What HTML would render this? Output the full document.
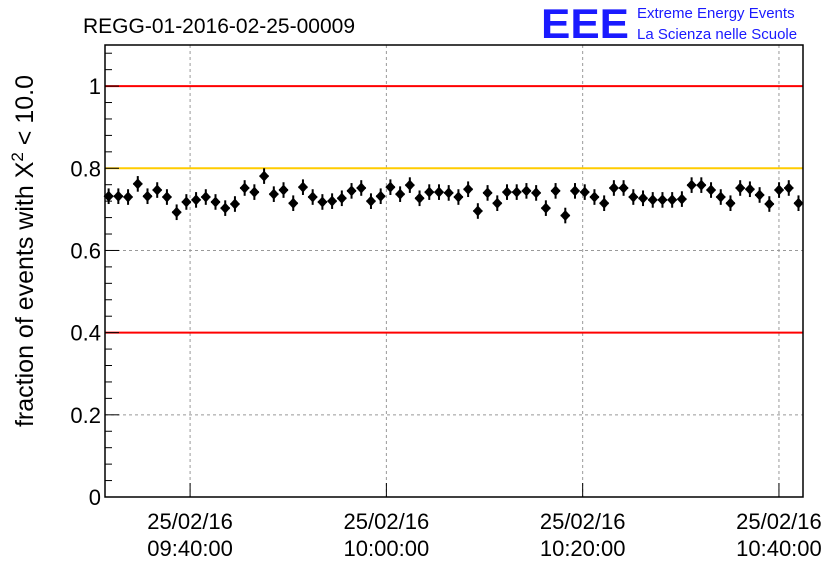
<!DOCTYPE html>
<html><head><meta charset="utf-8"><style>
body{margin:0;background:#fff;}
svg{display:block;font-family:"Liberation Sans",sans-serif;}
</style></head><body>
<svg id="chart" width="836" height="572">
<text x="83" y="33" font-size="21">REGG-01-2016-02-25-00009</text>
<g>
<text x="541" y="38" font-size="42" font-weight="bold" fill="#1a1aff" textLength="88" lengthAdjust="spacingAndGlyphs">EEE</text>
<text x="637" y="18" font-size="15" fill="#1a1aff">Extreme Energy Events</text>
<text x="637" y="39" font-size="15" fill="#1a1aff">La Scienza nelle Scuole</text>
</g>
<text transform="translate(33,251) rotate(-90)" text-anchor="middle" font-size="25">fraction of events with X<tspan dy="-10" font-size="17">2</tspan><tspan dy="10"> &lt; 10.0</tspan></text>
<g id="grid"></g><g id="lines"></g><g id="marks"></g><g id="axes"></g>
</svg>
<script>
const yTicks=[0,0.2,0.4,0.6,0.8,1];
const yTickLabels=["0","0.2","0.4","0.6","0.8","1"];
const xTickMinutes=[0,20,40,60];
const xTickDates=["25/02/16","25/02/16","25/02/16","25/02/16"];
const xTickTimes=["09:40:00","10:00:00","10:20:00","10:40:00"];
const refLines=[1,0.8,0.4];
const refColors=["#ff0000","#ffcc00","#ff0000"];
const startMinute=-8.3;
const stepMinute=0.99;
const values=[0.732,0.732,0.730,0.762,0.732,0.747,0.730,0.693,0.718,0.723,0.730,0.718,0.703,0.713,0.752,0.742,0.781,0.737,0.747,0.715,0.754,0.730,0.718,0.720,0.727,0.745,0.752,0.720,0.732,0.754,0.737,0.759,0.727,0.742,0.742,0.740,0.730,0.749,0.696,0.740,0.715,0.742,0.742,0.745,0.740,0.703,0.745,0.685,0.745,0.742,0.730,0.715,0.752,0.752,0.730,0.727,0.723,0.723,0.723,0.725,0.759,0.759,0.747,0.730,0.715,0.752,0.749,0.735,0.713,0.747,0.752,0.715];
const errors=values.map(()=>0.019);
const L=105,R=803,T=45,B=497;
const xmin=-8.67,xmax=62.45,ymin=0,ymax=1.1;
const X=m=>L+(m-xmin)/(xmax-xmin)*(R-L);
const Y=v=>B-(v-ymin)/(ymax-ymin)*(B-T);
const NS="http://www.w3.org/2000/svg";
function mk(tag,attrs,parent){const e=document.createElementNS(NS,tag);for(const k in attrs)e.setAttribute(k,attrs[k]);document.getElementById(parent).appendChild(e);return e;}
yTicks.forEach((v,i)=>{
  if(v>0){const g=mk('line',{x1:L,x2:R,y1:Y(v),y2:Y(v),stroke:'#999','stroke-dasharray':'3,3'},'grid');
  
  }
  const t=mk('line',{x1:L,x2:L+14,y1:Y(v),y2:Y(v),stroke:'#000'},'axes');
  
  
  const lb=mk('text',{x:L-4,y:Y(v)+8,'text-anchor':'end','font-size':'22'},'axes');
  lb.textContent=yTickLabels[i];
  
  
  if(i<yTicks.length-1){for(let k=1;k<5;k++){const mv=v+k*0.04;const mt=mk('line',{x1:L,x2:L+7,y1:Y(mv),y2:Y(mv),stroke:'#000'},'axes');
  
  }}
});
for(let k=1;k<3;k++){const mv=1+k*0.04;const mt=mk('line',{x1:L,x2:L+7,y1:Y(mv),y2:Y(mv),stroke:'#000'},'axes');

}
xTickMinutes.forEach((m,i)=>{
  const g=mk('line',{x1:X(m),x2:X(m),y1:T,y2:B,stroke:'#999','stroke-dasharray':'3,3'},'grid');
  
  
  const t=mk('line',{x1:X(m),x2:X(m),y1:B,y2:B-14,stroke:'#000'},'axes');
  
  
  const d=mk('text',{x:X(m),y:529,'text-anchor':'middle','font-size':'22'},'axes');
  d.textContent=xTickDates[i];
  
  
  const tt=mk('text',{x:X(m),y:556,'text-anchor':'middle','font-size':'22'},'axes');
  tt.textContent=xTickTimes[i];
  
  
});
refLines.forEach((v,i)=>{
  const l=mk('line',{x1:L,x2:R,y1:Y(v),y2:Y(v),stroke:refColors[i],'stroke-width':2},'lines');
  
  
});
values.forEach((v,i)=>{
  const m=startMinute+i*stepMinute;const cx=X(m),cy=Y(v),e=errors[i];
  const eb=mk('line',{x1:cx,x2:cx,y1:Y(v+e),y2:Y(v-e),stroke:'#000','stroke-width':2},'marks');
  
  
  const hb=mk('line',{x1:cx-4.5,x2:cx+4.5,y1:cy,y2:cy,stroke:'#000','stroke-width':2},'marks');
  
  
  const p=mk('polygon',{points:`${cx},${cy-5.5} ${cx+5},${cy} ${cx},${cy+5.5} ${cx-5},${cy}`,fill:'#000'},'marks');
  
  
});
const f=mk('rect',{x:L,y:T,width:R-L,height:B-T,fill:'none',stroke:'#000','stroke-width':1.5},'axes');


</script>
</body></html>
